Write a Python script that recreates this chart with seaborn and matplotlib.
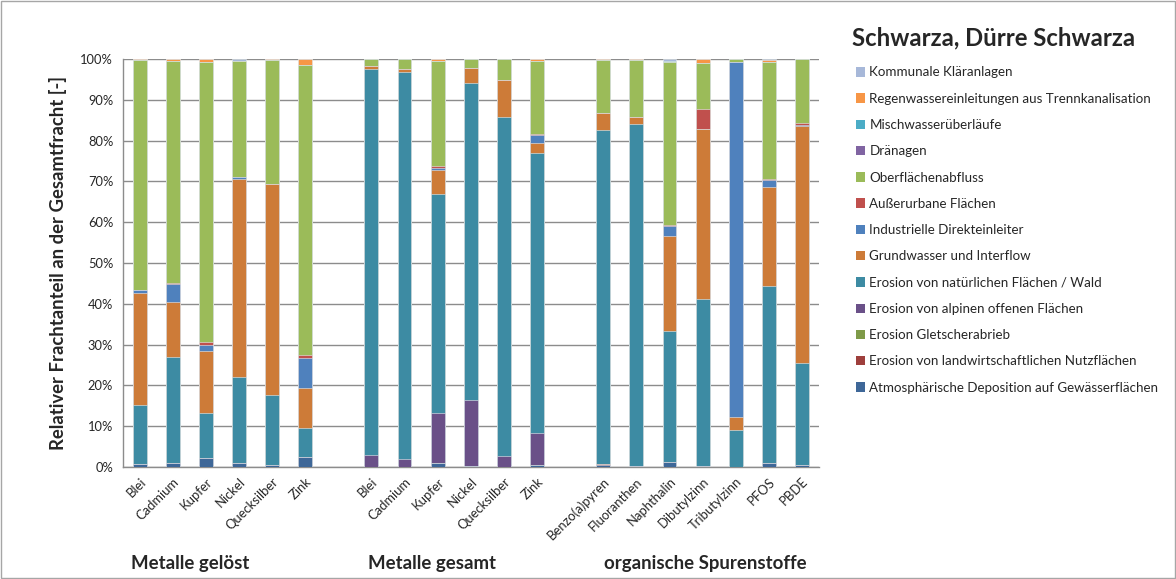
import numpy as np
import pandas as pd
import matplotlib
matplotlib.use("Agg")
import matplotlib.pyplot as plt
from matplotlib.patches import Patch, Rectangle
import seaborn as sns

sns.set_theme(style="white")
plt.rcParams['font.family'] = ['Lato', 'DejaVu Sans']

# ---- data ----
metals = ["Blei", "Cadmium", "Kupfer", "Nickel", "Quecksilber", "Zink"]
organics = ["Benzo(a)pyren", "Fluoranthen", "Naphthalin", "Dibutylzinn",
            "Tributylzinn", "PFOS", "PBDE"]
groups = ["Metalle gelöst", "Metalle gesamt", "organische Spurenstoffe"]

# values in % per source (bottom -> top), 19 columns: 6 gelöst, 6 gesamt, 7 organic
atm    = [0.7, 1.0, 2.1, 1.0, 0.4, 2.5,   0.0, 0.0, 1.0, 0.2, 0.0, 0.6,   0.5, 0.3, 1.2, 0.3, 0.0, 1.0, 0.4]
landw  = [0.0, 0.0, 0.0, 0.0, 0.0, 0.0,   0.0, 0.0, 0.0, 0.0, 0.0, 0.0,   0.2, 0.0, 0.0, 0.0, 0.0, 0.0, 0.0]
glet   = [0.0] * 19
alpin  = [0.0, 0.0, 0.0, 0.0, 0.0, 0.0,   2.9, 1.9, 12.3, 16.2, 2.7, 7.7, 0.0, 0.0, 0.0, 0.0, 0.0, 0.0, 0.0]
natur  = [14.4, 26.0, 11.1, 21.1, 17.2, 7.0, 94.7, 95.0, 53.7, 77.6, 83.0, 68.7, 82.0, 83.7, 32.1, 40.8, 9.0, 43.3, 25.1]
grundw = [27.5, 13.5, 15.3, 48.5, 51.8, 9.8, 0.8, 0.7, 5.7, 3.7, 9.1, 2.5, 4.1, 1.7, 23.2, 41.7, 3.3, 24.3, 58.2]
indus  = [0.9, 4.3, 1.4, 0.6, 0.0, 7.3,   0.0, 0.0, 0.5, 0.0, 0.0, 1.8,   0.0, 0.0, 2.5, 0.0, 86.9, 1.7, 0.2]
ausser = [0.0, 0.2, 0.8, 0.0, 0.0, 0.8,   0.0, 0.0, 0.5, 0.0, 0.0, 0.3,   0.0, 0.0, 0.3, 4.9, 0.0, 0.4, 0.3]
oberfl = [56.3, 54.6, 68.6, 28.2, 30.4, 71.1, 1.6, 2.4, 25.9, 2.3, 5.2, 17.8, 13.0, 14.1, 39.9, 11.3, 0.8, 28.6, 15.8]
draen  = [0.0] * 19
misch  = [0.0, 0.0, 0.0, 0.0, 0.0, 0.0,   0.0, 0.0, 0.0, 0.0, 0.0, 0.0,   0.0, 0.0, 0.3, 0.0, 0.0, 0.0, 0.0]
regen  = [0.2, 0.4, 0.7, 0.1, 0.2, 1.5,   0.0, 0.0, 0.4, 0.0, 0.0, 0.6,   0.2, 0.2, 0.0, 1.0, 0.0, 0.4, 0.0]
kommun = [0.0, 0.0, 0.0, 0.5, 0.0, 0.0,   0.0, 0.0, 0.0, 0.0, 0.0, 0.0,   0.0, 0.0, 0.5, 0.0, 0.0, 0.3, 0.0]

sources = [
    ("Atmosphärische Deposition auf Gewässerflächen", atm, "#3E6798"),
    ("Erosion von landwirtschaftlichen Nutzflächen", landw, "#9E3F3C"),
    ("Erosion Gletscherabrieb", glet, "#7E9A48"),
    ("Erosion von alpinen offenen Flächen", alpin, "#6A5088"),
    ("Erosion von natürlichen Flächen / Wald", natur, "#3D8BA3"),
    ("Grundwasser und Interflow", grundw, "#CD7B38"),
    ("Industrielle Direkteinleiter", indus, "#4F81BD"),
    ("Außerurbane Flächen", ausser, "#C0504D"),
    ("Oberflächenabfluss", oberfl, "#9BBB59"),
    ("Dränagen", draen, "#8064A2"),
    ("Mischwasserüberläufe", misch, "#4BACC6"),
    ("Regenwassereinleitungen aus Trennkanalisation", regen, "#F79646"),
    ("Kommunale Kläranlagen", kommun, "#A7B8D9"),
]

# category slots incl. two empty separators
labels = metals + [""] + metals + [""] + organics
keys = ([f"g_{m}" for m in metals] + ["_sep1"] + [f"t_{m}" for m in metals]
        + ["_sep2"] + [f"o_{o}" for o in organics])
data_idx = [i for i, k in enumerate(keys) if not k.startswith("_sep")]

def full(vals):
    arr = np.zeros(len(keys))
    arr[data_idx] = vals
    return arr

# ---- figure ----
fig = plt.figure(figsize=(11.76, 5.79), dpi=100)
W, H = 1176, 579
ax = fig.add_axes([123 / W, 1 - 467 / H, (818.5 - 123) / W, (467 - 59) / H])

cum = np.zeros(len(keys))
tops = []
for name, vals, col in sources:
    v = full(vals)
    cum = cum + v
    tops.append((name, cum.copy(), col))

# draw cumulative totals from top layer down so lower layers overlay
for name, c, col in reversed(tops):
    df = pd.DataFrame({"key": keys, "val": c})
    sns.barplot(data=df, x="key", y="val", order=keys, color=col, width=0.42,
                saturation=1, edgecolor="#e8eef2", linewidth=0.4, ax=ax,
                zorder=3, errorbar=None)

ax.set_ylim(0, 100)
ax.set_xlim(-0.5, len(keys) - 0.5)
ax.set_yticks(np.arange(0, 101, 10))
ax.set_yticklabels([f"{v}%" for v in range(0, 101, 10)], fontsize=9.3)
ax.yaxis.grid(True, color="#8c8c8c", linewidth=1.0, zorder=0)
ax.set_axisbelow(True)
ax.set_xlabel("")
ax.set_ylabel("Relativer Frachtanteil an der Gesamtfracht [-]", fontsize=13.3,
              fontweight="bold", labelpad=10)

ax.set_xticks(range(len(keys)))
ax.set_xticklabels(labels, rotation=45, ha="right", rotation_mode="anchor",
                   fontsize=9.4)
ax.tick_params(axis="x", length=0, pad=6)
ax.set_xticks(np.arange(-0.5, len(keys) + 0.5, 1), minor=True)
ax.tick_params(axis="x", which="minor", length=4, color="#8c8c8c", direction="out")
ax.tick_params(axis="y", length=4, color="#8c8c8c", direction="out", pad=3)

for s in ["top", "right"]:
    ax.spines[s].set_visible(False)
for s in ["left", "bottom"]:
    ax.spines[s].set_color("#8c8c8c")
    ax.spines[s].set_linewidth(1.0)

# group labels
for txt, xc in zip(groups, [190, 432, 705]):
    fig.text(xc / W, 1 - 563 / H, txt, ha="center", va="center",
             fontsize=13.4, fontweight="bold")

# legend and title
fig.text(852 / W, 1 - 38 / H, "Schwarza, Dürre Schwarza", ha="left", va="center",
         fontsize=17.2, fontweight="bold")
handles = [Patch(facecolor=col, edgecolor="none", label=name)
           for name, vals, col in reversed(sources)]
fig.legend(handles=handles, loc="upper left",
           bbox_to_anchor=(856 / W, 1 - 66.5 / H), frameon=False, fontsize=9.6,
           handlelength=0.7, handleheight=0.7, handletextpad=0.3,
           labelspacing=1.07, borderaxespad=0, borderpad=0)

# outer border
fig.patches.append(Rectangle((0.001, 0.001), 0.998, 0.997, transform=fig.transFigure,
                             fill=False, edgecolor="#a6a6a6", linewidth=1.0))

fig.savefig("out.png", dpi=100)
